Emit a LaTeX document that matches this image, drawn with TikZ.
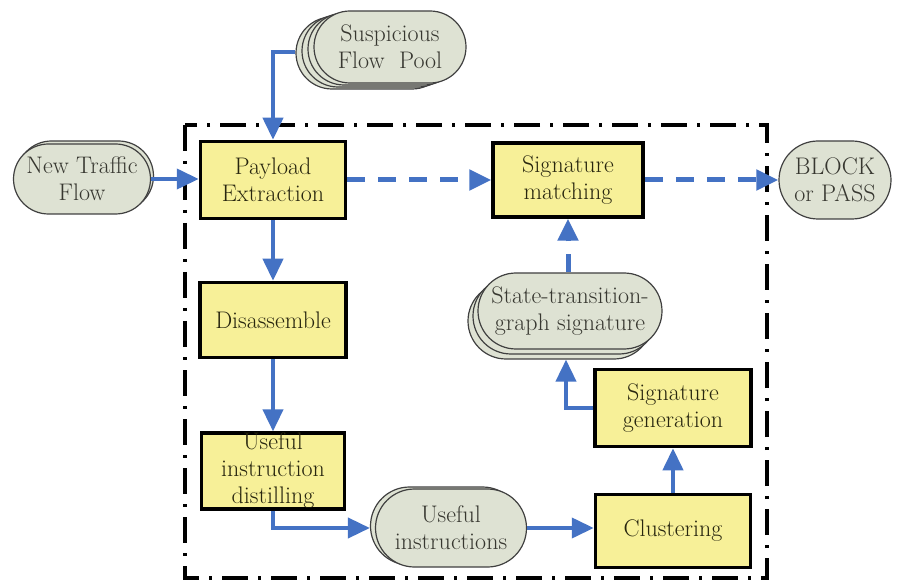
\documentclass[tikz,border=0pt]{standalone}
\usetikzlibrary{calc,positioning,arrows.meta,shapes.misc,shadows}

\definecolor{boxyellow}{RGB}{247,240,152}
\definecolor{poolgrey}{RGB}{222,226,211}
\definecolor{flowblue}{RGB}{68,114,196}
\definecolor{boxtext}{RGB}{40,38,15}
\definecolor{pooltext}{RGB}{55,55,48}

\tikzset{
  every node/.style={font=\rmfamily\fontsize{24}{27}\selectfont},
  stepbox/.style={draw=black, line width=3.5pt, fill=boxyellow, text=boxtext, align=center, inner sep=0pt},
  pool/.style={rounded rectangle, draw=black!75, line width=1.2pt, fill=poolgrey, text=pooltext, align=center, inner sep=0pt},
  flow/.style={draw=flowblue, line width=4pt, -{Triangle[length=22pt,width=20pt]}},
  dflow/.style={flow, line width=5pt, dash pattern=on 18pt off 13pt},
  frame/.style={line width=3.5pt, dash pattern=on 26pt off 10pt on 3pt off 10pt}
}

\begin{document}
\begin{tikzpicture}[x=1pt,y=-1pt]
\useasboundingbox (0,0) rectangle (897,585);

% detection frame
\draw[frame] (185,125) rectangle (767,578);

% processing steps
\node[stepbox, minimum width=145pt, minimum height=77pt] (payload) at (273,180) {Payload\\Extraction};
\node[stepbox, minimum width=150pt, minimum height=74pt] (sigmatch) at (568,180) {Signature\\matching};
\node[stepbox, minimum width=146pt, minimum height=75pt] (disasm) at (273,320) {Disassemble};
\node[stepbox, minimum width=143pt, minimum height=75pt] (distill) at (273,471) {Useful\\instruction\\distilling};
\node[stepbox, minimum width=156pt, minimum height=77pt] (siggen) at (673,408) {Signature\\generation};
\node[stepbox, minimum width=155pt, minimum height=73pt] (cluster) at (673,531) {Clustering};

% data pools
\node[pool, minimum width=137pt, minimum height=70pt,
  copy shadow={shadow xshift=3pt, shadow yshift=3pt, fill=poolgrey, draw=black!75, line width=1.2pt}]
  (newflow) at (82,179) {New Traffic\\Flow};
\node[pool, minimum width=152pt, minimum height=72pt,
  copy shadow={shadow xshift=-18pt, shadow yshift=-6pt, fill=poolgrey, draw=black!75, line width=1.2pt},
  copy shadow={shadow xshift=-12pt, shadow yshift=-4pt, fill=poolgrey, draw=black!75, line width=1.2pt},
  copy shadow={shadow xshift=-6pt, shadow yshift=-2pt, fill=poolgrey, draw=black!75, line width=1.2pt}]
  (susp) at (390,47) {Suspicious\\Flow~~Pool};
\node[pool, minimum width=184pt, minimum height=76pt,
  copy shadow={shadow xshift=-10pt, shadow yshift=-10pt, fill=poolgrey, draw=black!75, line width=1.2pt},
  copy shadow={shadow xshift=-5pt, shadow yshift=-5pt, fill=poolgrey, draw=black!75, line width=1.2pt}]
  (state) at (570,311) {State-transition-\\graph signature};
\node[pool, minimum width=151pt, minimum height=78pt,
  copy shadow={shadow xshift=-5pt, shadow yshift=2pt, fill=poolgrey, draw=black!75, line width=1.2pt}]
  (useful) at (451,528) {Useful\\instructions};
\node[pool, minimum width=112pt, minimum height=78pt] (block) at (835,180) {BLOCK\\or PASS};

% connectors
\coordinate (suspin) at ($(susp.west)+(-18,5)$);
\coordinate (usefulin) at ($(useful.west)+(-5,0)$);
\coordinate (statein) at ($(state.south)+(-4,10)$);

\draw[flow] (newflow.east) -- (newflow.east -| payload.west);
\draw[flow] (suspin) -| (payload.north);
\draw[dflow] (payload) -- (sigmatch);
\draw[dflow] (sigmatch) -- (block);
\draw[flow] (payload) -- (disasm);
\draw[flow] (disasm) -- (distill);
\draw[flow] (distill.south) |- (usefulin);
\draw[flow] (useful.east) -- (useful.east -| cluster.west);
\draw[flow] (cluster) -- (siggen);
\draw[flow] (siggen.west) -| (statein);
\draw[dflow] (state.north -| sigmatch.south) -- (sigmatch.south);

\end{tikzpicture}
\end{document}
